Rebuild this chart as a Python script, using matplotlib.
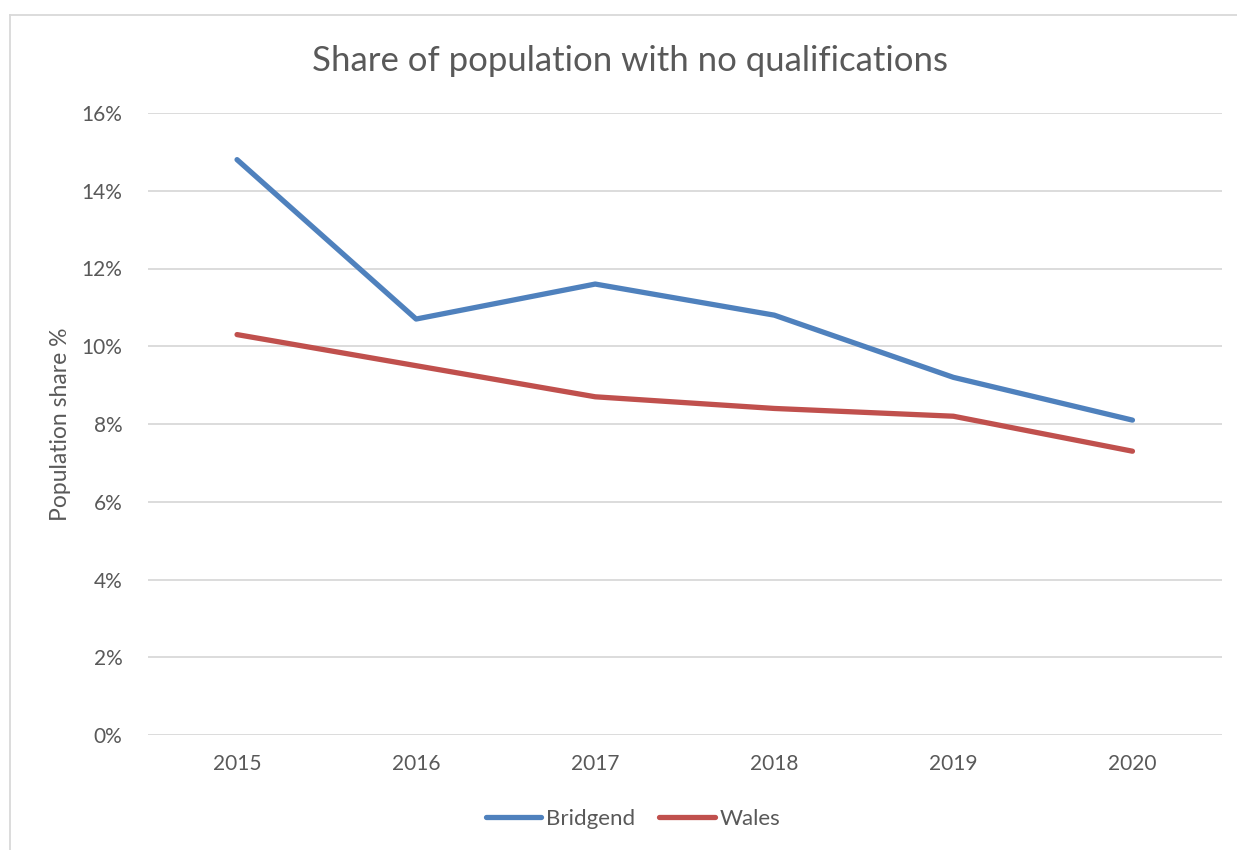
import matplotlib
matplotlib.use("Agg")
import matplotlib.pyplot as plt
from matplotlib.lines import Line2D
from matplotlib.ticker import FuncFormatter

years = ["2015", "2016", "2017", "2018", "2019", "2020"]
bridgend = [14.8, 10.7, 11.6, 10.8, 9.2, 8.1]
wales = [10.3, 9.5, 8.7, 8.4, 8.2, 7.3]
yticks = [0, 2, 4, 6, 8, 10, 12, 14, 16]

plt.rcParams['font.family'] = ['Lato', 'DejaVu Sans']
txt = '#595959'

fig = plt.figure(figsize=(12.37, 8.5), dpi=100)
ax = fig.add_axes([147.5/1237, 1-735/850, (1222-147.5)/1237, 622/850])

x = list(range(len(years)))
ax.plot(x, bridgend, color='#4F81BD', lw=3.8, label='Bridgend', solid_capstyle='round')
ax.plot(x, wales, color='#C0504D', lw=3.8, label='Wales', solid_capstyle='round')

ax.set_xlim(-0.5, len(years)-0.5)
ax.set_ylim(0, 16)
ax.set_yticks(yticks)
ax.yaxis.set_major_formatter(FuncFormatter(lambda v, p: f"{int(v)}%"))
ax.set_xticks(x)
ax.set_xticklabels(years)
ax.grid(axis='y', color='#D9D9D9', lw=1.3)
ax.set_axisbelow(True)
for s in ['top', 'right', 'left', 'bottom']:
    ax.spines[s].set_visible(False)
ax.tick_params(axis='both', length=0, labelsize=15, colors=txt)
ax.tick_params(axis='y', pad=18)
ax.tick_params(axis='x', pad=14)
ax.set_ylabel('Population share %', fontsize=16.5, color=txt, labelpad=8)

fig.text(630/1237, 1-61/850, 'Share of population with no qualifications', ha='center', va='center',
         fontsize=25, color=txt)

leg = fig.legend(loc='center', bbox_to_anchor=(633/1237, 1-819/850), ncol=2, frameon=False,
                 fontsize=16, handlelength=2.5, handletextpad=0.2, columnspacing=1.1)
for t in leg.get_texts():
    t.set_color(txt)

# chart border
fig.add_artist(Line2D([9.5/1237, 9.5/1237], [0, 1-14.5/850], transform=fig.transFigure, color='#D9D9D9', lw=1.3))
fig.add_artist(Line2D([9.5/1237, 1], [1-14.5/850, 1-14.5/850], transform=fig.transFigure, color='#D9D9D9', lw=1.3))

fig.savefig('out.png', dpi=100)
